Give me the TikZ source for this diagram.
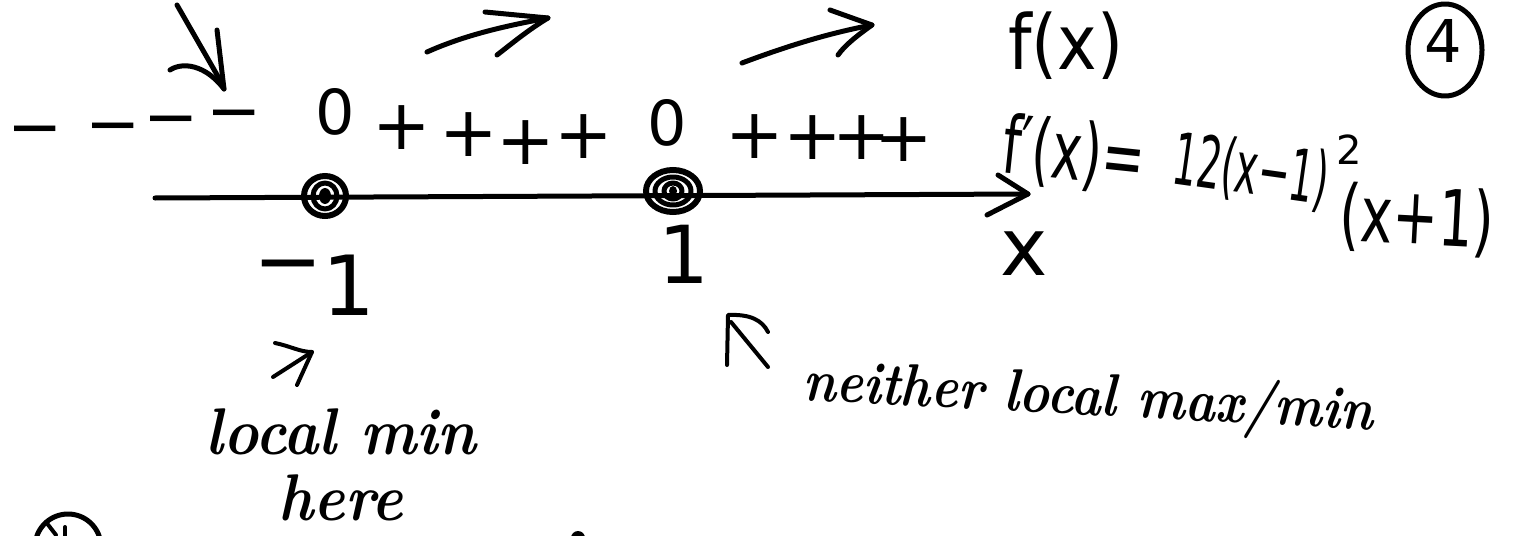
\documentclass[tikz,border=0pt]{standalone}
\usepackage{fontspec}
\newfontfamily\hand{DejaVu Sans}
\begin{document}
\begin{tikzpicture}[x=1pt,y=-1pt,
  ink/.style={line width=5pt, line cap=round, line join=round},
  thin ink/.style={line width=4pt, line cap=round, line join=round},
  txt/.style={inner sep=0pt, outer sep=0pt},
  plussign/.style={txt, font=\hand\fontsize{70}{70}\selectfont},
  minussign/.style={txt, anchor=base, font=\hand\fontsize{66}{66}\selectfont},
  zerosign/.style={txt, font=\hand\fontsize{62}{62}\selectfont},
  formula/.style={txt, font=\hand\fontsize{#1}{#1}\selectfont},
  cursive/.style={txt, font=\fontsize{#1}{#1}\selectfont\bfseries\itshape}]
\useasboundingbox (0,0) rectangle (1522,535);

% ---- sign chart of f'
\node[minussign] (m1) at (35,149) {−};
\node[minussign] (m2) at (113,146) {−};
\node[minussign] (m3) at (171,139) {−};
\node[minussign] (m4) at (234,133) {−};
\node[zerosign] (z1) at (335,112) {0};
\node[plussign] (p1) at (402,128) {+};
\node[plussign] (p2) at (469,135) {+};
\node[plussign] (p3) at (526,143) {+};
\node[plussign] (p4) at (584,137) {+};
\node[zerosign] (z2) at (667,123) {0};
\node[plussign] (p5) at (755,137) {+};
\node[plussign] (p6) at (813,138) {+};
\node[plussign] (p7) at (862,138) {+};
\node[plussign] (p8) at (904,140) {+};

% ---- monotonicity arrows
\coordinate (aA) at (224,89);
\draw[ink] (177,5) -- (220,80);
\draw[ink] (217,30) -- (aA);
\draw[ink] (170,70) .. controls (182,62) and (205,64) .. (aA);

\coordinate (aB) at (548,18);
\draw[ink] (427,52) .. controls (465,35) and (505,26) .. (aB);
\draw[ink] (485,12) -- (aB) .. controls (528,30) and (510,45) .. (497,55);

\coordinate (aC) at (872,25);
\draw[ink] (742,63) .. controls (790,45) and (830,33) .. (aC);
\draw[ink] (830,10) -- (aC) .. controls (858,35) and (845,45) .. (838,55);

% ---- axis
\coordinate (ax0) at (155,198);
\coordinate (ax1) at (1028,194);
\draw[ink] (ax0) -- (ax1);
\draw[ink] (998,175) -- (ax1) -- (987,215);
\node[formula=80, anchor=base] (xl) at (1024,275) {x};

% ---- critical points
\coordinate (d1) at (325,196);
\coordinate (d2) at (673,191);
\draw[line width=6pt] (d1) ellipse [x radius=21, y radius=20];
\draw[ink] (d1) ellipse [x radius=12, y radius=13];
\fill (d1) ellipse [x radius=6, y radius=8];
\draw[line width=6pt] (d2) ellipse [x radius=27, y radius=21];
\draw[ink] (d2) ellipse [x radius=18, y radius=14];
\draw[ink] (d2) ellipse [x radius=9, y radius=8];
\fill (d2) ellipse [x radius=4, y radius=5];

\node[formula=83, anchor=base west] (mone) at (253,315) {\raisebox{26pt}{−}1};
\node[formula=80, anchor=base] (one) at (684,283) {1};

% ---- functions
\node[formula=76, anchor=base] (fx) at (1066,70) {\scalebox{0.88}[1]{f(x)}};
\node[formula=59, anchor=base] (four) at (1443,63) {4};
\draw[ink] (1445,50) ellipse [x radius=37, y radius=46];

\node[formula=80, anchor=base west, rotate=-6] (fp) at (1000,172) {\scalebox{0.64}[1]{f′(x)=}};
\node[formula=72, anchor=base west, rotate=-8] (tw) at (1170,183) {\scalebox{0.53}[1]{12(x−1)}};
\node[formula=40] (sq) at (1349,150) {2};
\node[formula=78, anchor=base west, rotate=-3] (xp) at (1338,240) {\scalebox{0.7}[1]{(x+1)}};

% ---- comments
\coordinate (aD) at (312,352);
\draw[thin ink] (273,377) -- (aD);
\draw[thin ink] (275,343) .. controls (290,346) and (300,352) .. (aD) -- (297,385);
\node[cursive=66, align=center] (lm) at (341,465)
  {\scalebox{0.9}[1]{local min}\\\scalebox{0.9}[1]{here}};

\coordinate (aE) at (728,315);
\draw[thin ink] (727,365) -- (aE) .. controls (750,314) and (762,320) .. (768,332);
\draw[thin ink] (731,322) -- (768,367);
\node[cursive=60, anchor=base west, rotate=-3] (nl) at (802,400)
  {\scalebox{0.85}[1]{neither local max/min}};

% ---- cut-off marks at the bottom edge
\begin{scope}
\clip (0,0) rectangle (1522,535);
\draw[ink] (68,547) circle (33);
\draw[thin ink] (46,522) -- (56,535);
\draw[thin ink] (65,527) -- (65,540);
\fill (578,538) ellipse [x radius=7, y radius=7];
\end{scope}
\end{tikzpicture}
\end{document}
